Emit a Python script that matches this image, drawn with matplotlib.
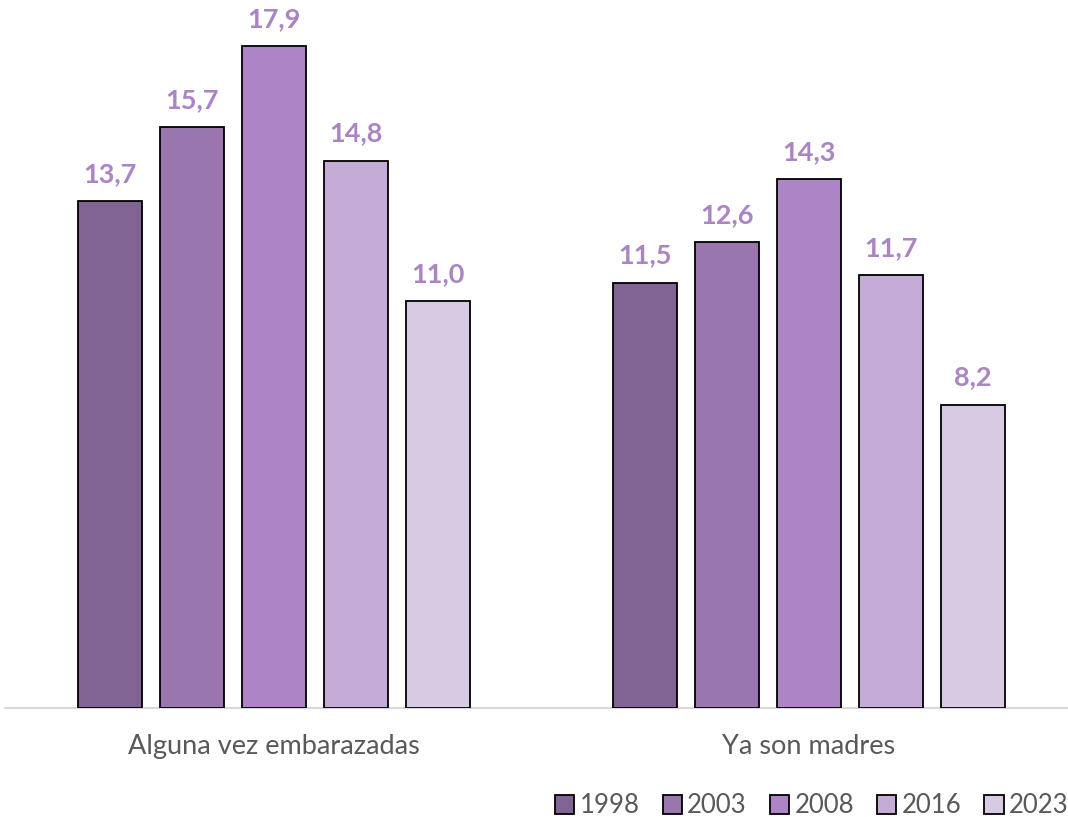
import matplotlib.pyplot as plt
import numpy as np

plt.rcParams['font.family'] = ['Lato', 'DejaVu Sans']

categories = ['Alguna vez embarazadas', 'Ya son madres']
years = ['1998', '2003', '2008', '2016', '2023']
values = {
    '1998': [13.7, 11.5],
    '2003': [15.7, 12.6],
    '2008': [17.9, 14.3],
    '2016': [14.8, 11.7],
    '2023': [11.0, 8.2],
}
colors = ['#826494', '#9a76ae', '#ad84c5', '#c4acd6', '#d8cae3']
label_color = '#ab84c4'

W, H = 1068, 817
fig = plt.figure(figsize=(W / 100, H / 100), dpi=100)
# axes placed in pixel terms: baseline at y=708, left edge at x=5
px_per_unit = 535.0
x_left, x_right = 5, 1068
ymax = 19
ax = fig.add_axes([x_left / W, (H - 708) / H, (x_right - x_left) / W,
                   ymax * 36.98 / H])

x = np.arange(len(categories))
width = 64 / px_per_unit
step = 82 / px_per_unit

for i, yr in enumerate(years):
    pos = x + (i - 2) * step
    bars = ax.bar(pos, values[yr], width, color=colors[i], edgecolor='black',
                  linewidth=1.3, label=yr, zorder=3)
    for b, v in zip(bars, values[yr]):
        ax.annotate(f'{v:.1f}'.replace('.', ','),
                    (b.get_x() + b.get_width() / 2, v),
                    xytext=(0, 11), textcoords='offset points',
                    ha='center', va='bottom', fontsize=19.5, fontweight='bold',
                    color=label_color)

ax.set_xlim((x_left - 274) / px_per_unit, (x_right - 274) / px_per_unit)
ax.set_ylim(0, ymax)
ax.set_yticks([])
ax.set_xticks(x)
ax.set_xticklabels(categories, fontsize=19.5, color='#595959')
ax.tick_params(axis='x', length=0, pad=19)
for s in ['top', 'right', 'left']:
    ax.spines[s].set_visible(False)
ax.spines['bottom'].set_color('#d9d9d9')
ax.spines['bottom'].set_linewidth(1.5)

leg = fig.legend(loc='lower right', bbox_to_anchor=(1.022, -0.03), ncol=5,
                 frameon=False, fontsize=18.5, handlelength=0.75,
                 handleheight=0.75, handletextpad=0.2, columnspacing=0.9)
for t in leg.get_texts():
    t.set_color('#595959')

fig.savefig('out.png', dpi=100)
